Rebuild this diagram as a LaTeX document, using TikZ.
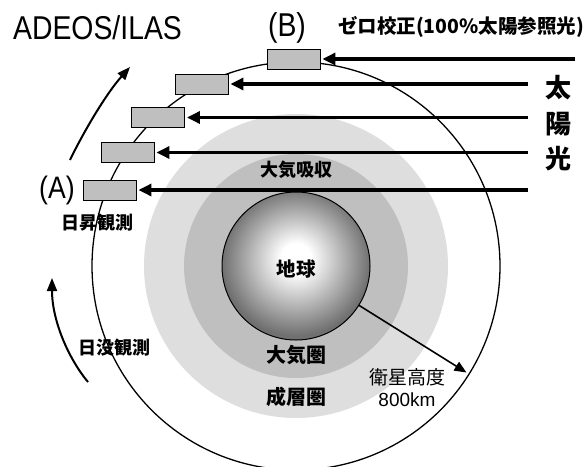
\documentclass[tikz,border=0pt]{standalone}
\usepackage{fontspec}
\setmainfont{Liberation Sans}
\newfontfamily\jpfont{Noto Sans CJK JP}
\usetikzlibrary{arrows.meta}

% soft highlight on the globe, slightly above centre
\pgfdeclareradialshading{globe}{\pgfpoint{0bp}{3bp}}{%
  color(0bp)=(white); color(5bp)=(white);
  color(25bp)=(black!56); color(50bp)=(black!56)}

% narrow headline lettering
\newcommand{\narrowtext}[2]{\scalebox{0.86}[1]{\fontsize{#1}{#1}\selectfont #2}}

\begin{document}
\begin{tikzpicture}[x=1pt,y=-1pt,
  ring/.style={circle,inner sep=0pt,outer sep=0pt,draw=none},
  sat/.style={draw=black,line width=0.9pt,fill=black!25,
    minimum width=53pt,minimum height=20pt,inner sep=0pt},
  sunray/.style={line width=3.2pt,-{Triangle[length=13pt,width=12pt]},shorten >=2pt},
  motion/.style={line width=2pt,-{Triangle[length=13pt,width=10pt]}},
  jbold/.style={inner sep=0pt,font={\jpfont\bfseries\fontsize{18}{20}\selectfont}},
  jreg/.style={inner sep=0pt,font={\jpfont\fontsize{19}{21}\selectfont}},
  sunchar/.style={inner sep=0pt,font={\jpfont\bfseries\fontsize{26}{28}\selectfont}},
  latin/.style={inner sep=0pt}]

\useasboundingbox (0,0) rectangle (588,466);

% atmosphere layers and the Earth
\node[ring,fill=black!13,minimum size=304pt] (strato) at (296,266) {};
\node[ring,fill=black!25,minimum size=224pt] (atmo) at (296,266) {};
\node[circle,inner sep=0pt,outer sep=0pt,minimum size=148pt,
  shading=globe,draw=black,line width=1pt] (earth) at (296,266) {};

% satellite orbit
\node[circle,inner sep=0pt,outer sep=0pt,minimum size=408pt,
  draw=black,line width=1.3pt] (orbit) at (296,266) {};

% satellite positions along the orbit
\node[sat] (satB) at (293.5,59) {};
\node[sat] (sat2) at (201.5,84) {};
\node[sat] (sat3) at (158,117.5) {};
\node[sat] (sat4) at (127.5,152.5) {};
\node[sat] (satA) at (109.5,190) {};

% incoming sunlight
\coordinate (rB) at (575,59);
\coordinate (r2) at (528,84);
\coordinate (r3) at (528,117.5);
\coordinate (r4) at (528,152.5);
\coordinate (rA) at (528,190);
\draw[sunray] (rB) -- (satB.east);
\draw[sunray] (r2) -- (sat2.east);
\draw[sunray] (r3) -- (sat3.east);
\draw[sunray] (r4) -- (sat4.east);
\draw[sunray] (rA) -- (satA.east);

% direction of motion
\coordinate (upS) at (70,160);
\coordinate (upE) at (130,67);
\draw[motion] (upS) .. controls (82,135) and (105,95) .. (upE);
\coordinate (dnS) at (88,382);
\coordinate (dnE) at (52,278);
\draw[motion] (dnS) .. controls (68,358) and (52,320) .. (dnE);

% altitude
\draw[line width=1.6pt,-{Triangle[length=12pt,width=10pt]},shorten >=3pt]
  (earth.-32) -- (orbit.-32);

% labels
\node[latin] (title) at (97.5,27.5) {\narrowtext{33}{ADEOS/ILAS}};
\node[latin] (labB) at (287,27.5) {\narrowtext{33}{(B)}};
\node[jbold,font={\jpfont\bfseries\fontsize{19.5}{21}\selectfont}] (zero) at (461,27) {ゼロ校正(100\%太陽参照光)};
\node[sunchar] (sun1) at (558,87.5) {太};
\node[sunchar] (sun2) at (558,124.5) {陽};
\node[sunchar] (sun3) at (558,159) {光};
\node[latin] (labA) at (57,190) {\narrowtext{31}{(A)}};
\node[jbold] (rise) at (97,223) {日昇観測};
\node[jbold] (set) at (114,348) {日没観測};
\node[jbold] (absorb) at (296,170) {大気吸収};
\node[jbold,font={\jpfont\bfseries\fontsize{19.5}{21}\selectfont}] (chikyu) at (296,269.5) {地球};
\node[jbold,font={\jpfont\bfseries\fontsize{20}{22}\selectfont}] (taiki) at (296,355) {大気圏};
\node[jbold,font={\jpfont\bfseries\fontsize{20}{22}\selectfont}] (seisou) at (296,397) {成層圏};
\node[jreg] (alt) at (407,377) {衛星高度};
\node[latin,font={\fontsize{19}{21}\selectfont}] (km) at (407,400) {800km};
\end{tikzpicture}
\end{document}
